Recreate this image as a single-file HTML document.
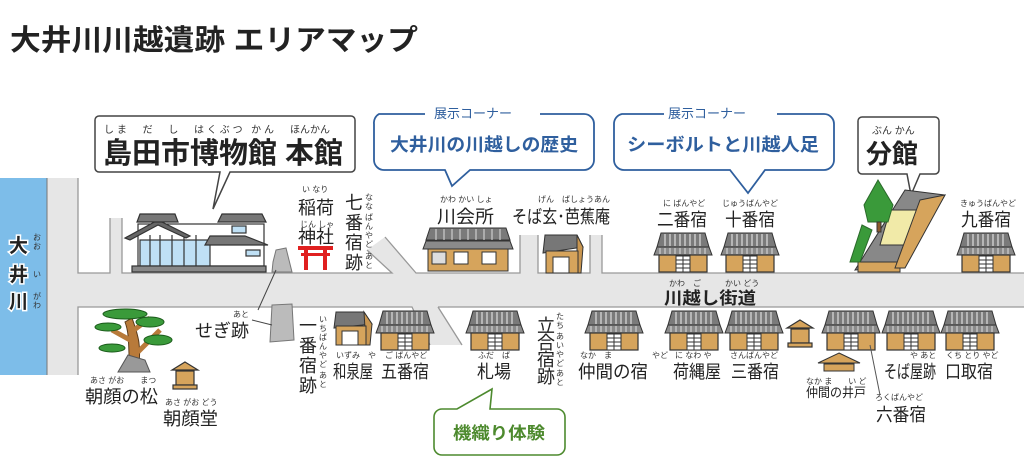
<!DOCTYPE html>
<html><head><meta charset="utf-8"><style>
html,body{margin:0;padding:0;background:#fff}
svg{display:block}
text{font-family:"Liberation Sans","Noto Sans CJK JP",sans-serif;fill:#222}
.r{font-size:8px;fill:#333}
.l{font-size:18px}
.b{font-weight:bold}
</style></head><body>
<svg width="1024" height="476" viewBox="0 0 1024 476" xmlns="http://www.w3.org/2000/svg">
<defs>
<g id="h">
 <polygon points="6,0 50,0 54,14 2,14" fill="#7a7a7a" stroke="#333" stroke-width="1"/>
 <path d="M10,1v12M15,1v12M20,1v12M25,1v12M30,1v12M35,1v12M40,1v12M45,1v12" stroke="#ddd" stroke-width="1.2"/>
 <polygon points="2,14 54,14 57,22 -1,22" fill="#8a8a8a" stroke="#333" stroke-width="1"/>
 <path d="M5,15v6M10,15v6M15,15v6M20,15v6M25,15v6M30,15v6M35,15v6M40,15v6M45,15v6M50,15v6" stroke="#ddd" stroke-width="1"/>
 <rect x="4" y="22" width="48" height="17" fill="#d6a45c" stroke="#333" stroke-width="1.2"/>
 <rect x="21" y="23" width="14" height="16" fill="#fff" stroke="#333" stroke-width="1"/>
 <path d="M21,27h14M21,31h14M21,35h14M28,23v16" stroke="#333" stroke-width="1"/>
</g>
<g id="sh">
 <polygon points="13,0 26,8 0,8" fill="#d6a45c" stroke="#333" stroke-width="1.2"/>
 <rect x="4" y="9" width="18" height="14" fill="#d6a45c" stroke="#333" stroke-width="1.2"/>
 <rect x="1" y="23" width="24" height="4" fill="#d6a45c" stroke="#333" stroke-width="1.2"/>
</g>
</defs>

<text x="10" y="50" class="b" style="font-size:29px" textLength="408" lengthAdjust="spacingAndGlyphs">大井川川越遺跡 エリアマップ</text>

<!-- roads -->
<g fill="#e6e6e6">
 <rect x="47" y="178" width="31" height="197"/>
 <rect x="47" y="273" width="977" height="34"/>
 <rect x="110" y="218" width="12" height="56"/>
 <polygon points="367,250 385,237 416,274 392,274"/>
 <rect x="520" y="235" width="18" height="40"/>
 <rect x="590" y="235" width="12" height="40"/>
 <polygon points="412,306 438,306 462,345 430,345"/>
</g>
<g stroke="#999" stroke-width="1.3" fill="none">
 <path d="M78,178V273H110V218M122,218V273H392L367,250"/>
 <path d="M385,237L416,273H520V235M538,235V273H590V235M602,235V273H1024"/>
 <path d="M78,375V307H412L430,345M438,307L462,345M438,307H1024"/>
</g>
<!-- river -->
<rect x="0" y="178" width="47" height="197" fill="#7dbde9"/>
<line x1="47" y1="178" x2="47" y2="375" stroke="#777" stroke-width="1"/>
<g stroke="#fff" stroke-width="3" paint-order="stroke">
<text x="9" y="252" style="font-size:19px" class="b">大</text>
<text x="9" y="281" style="font-size:19px" class="b">井</text>
<text x="9" y="308" style="font-size:19px" class="b">川</text>
</g>
<text x="33" y="240" class="r">お</text><text x="33" y="249" class="r">お</text>
<text x="33" y="277" class="r">い</text>
<text x="33" y="299" class="r">が</text><text x="33" y="308" class="r">わ</text>

<!-- honkan callout -->
<path d="M99,116H351a4,4 0 0 1 4,4V168a4,4 0 0 1-4,4H230L213,209L220,172H99a4,4 0 0 1-4-4V120a4,4 0 0 1 4-4Z" fill="#fff" stroke="#444" stroke-width="1.5"/>
<text x="104" y="133" class="r" style="font-size:10px" textLength="170">しま　だ　し　はくぶつ かん</text>
<text x="290" y="133" class="r" style="font-size:10px">ほんかん</text>
<text x="103" y="163" class="b" style="font-size:29px" textLength="240" lengthAdjust="spacingAndGlyphs">島田市博物館 本館</text>

<!-- museum -->
<g stroke="#333" stroke-width="1.2">
 <rect x="138" y="224" width="126" height="42" fill="#fff"/>
 <rect x="140" y="240" width="70" height="26" fill="#bfe0f5"/>
 <path d="M150,235v31M160,235v31M172,235v31M184,235v31M196,235v31" stroke="#333"/>
 <polygon points="125,238 158,220 190,236 186,238 158,225 130,240" fill="#666"/>
 <polygon points="140,214 175,214 178,222 137,222" fill="#777"/>
 <polygon points="222,214 262,214 266,222 218,222" fill="#777"/>
 <polygon points="210,236 245,236 268,245 205,245" fill="#777"/>
 <rect x="232" y="226" width="14" height="7" fill="#bfe0f5"/>
 <rect x="246" y="250" width="14" height="6" fill="#bfe0f5"/>
 <rect x="132" y="266" width="134" height="6" fill="#888"/>
</g>

<!-- inari -->
<text x="302" y="192" class="r">い なり</text>
<text x="298" y="214" class="l">稲荷</text>
<text x="300" y="227" class="r">じん しゃ</text>
<text x="298" y="243" class="l">神社</text>
<g fill="#e02020"><rect x="298" y="246" width="35" height="4"/><rect x="301" y="253" width="29" height="3"/><rect x="304" y="250" width="4" height="20"/><rect x="323" y="250" width="4" height="20"/></g>
<!-- nana -->
<text x="345" y="209" class="l">七</text><text x="345" y="229" class="l">番</text><text x="345" y="249" class="l">宿</text><text x="345" y="269" class="l">跡</text>
<text x="365" y="200" class="r">な</text><text x="365" y="209" class="r">な</text><text x="365" y="220" class="r">ば</text><text x="365" y="229" class="r">ん</text><text x="365" y="238" class="r">や</text><text x="365" y="247" class="r">ど</text><text x="365" y="259" class="r">あ</text><text x="365" y="268" class="r">と</text>
<!-- segi stones -->
<polygon points="276,250 286,248 291,268 292,272 272,272 273,262" fill="#bbb" stroke="#777"/>
<polygon points="272,305 292,304 294,340 270,342" fill="#bbb" stroke="#777"/>
<path d="M276,270L258,310M252,320L272,325" stroke="#444" stroke-width="1" fill="none"/>
<text x="233" y="317" class="r">あと</text>
<text x="195" y="337" class="l">せぎ跡</text>

<!-- blue callouts -->
<g fill="#fff" stroke="#2f5f9e" stroke-width="1.8">
<path d="M379,114H584a10,10 0 0 1 10,10V160a10,10 0 0 1-10,10H470L452,186L445,170H384a10,10 0 0 1-10-10V124a10,10 0 0 1 5-10Z"/>
<path d="M622,114H824a10,10 0 0 1 10,10V160a10,10 0 0 1-10,10H765L748,193L730,170H624a10,10 0 0 1-10-10V124a10,10 0 0 1 8-10Z"/>
</g>
<rect x="425" y="106" width="115" height="16" fill="#fff"/>
<rect x="664" y="106" width="113" height="16" fill="#fff"/>
<text x="434" y="118" style="font-size:13px;fill:#2f5f9e">展示コーナー</text>
<text x="668" y="118" style="font-size:13px;fill:#2f5f9e">展示コーナー</text>
<text x="390" y="151" class="b" style="font-size:18px;fill:#2f5f9e" textLength="188" lengthAdjust="spacingAndGlyphs">大井川の川越しの歴史</text>
<text x="627" y="151" class="b" style="font-size:18px;fill:#2f5f9e" textLength="192" lengthAdjust="spacingAndGlyphs">シーボルトと川越人足</text>

<!-- top row -->
<text x="440" y="202" class="r">かわ かい しょ</text>
<text x="437" y="223" class="l" textLength="57" lengthAdjust="spacingAndGlyphs">川会所</text>
<g transform="translate(424,228)">
 <polygon points="6,0 82,0 86,12 2,12" fill="#7a7a7a" stroke="#333"/>
 <polygon points="2,13 86,13 89,21 -1,21" fill="#8a8a8a" stroke="#333"/>
 <path d="M12,1v11M20,1v11M28,1v11M36,1v11M44,1v11M52,1v11M60,1v11M68,1v11M76,1v11" stroke="#ddd"/>
 <rect x="4" y="21" width="80" height="22" fill="#d6a45c" stroke="#333"/>
 <rect x="8" y="24" width="14" height="12" fill="#ddd" stroke="#333"/>
 <rect x="30" y="24" width="14" height="12" fill="#fff" stroke="#333"/>
 <rect x="58" y="24" width="14" height="12" fill="#fff" stroke="#333"/>
</g>
<text x="538" y="202" class="r">げん　ばしょうあん</text>
<text x="512" y="223" class="l" textLength="98" lengthAdjust="spacingAndGlyphs">そば玄･芭蕉庵</text>
<g transform="translate(543,235)" stroke="#333">
 <polygon points="2,0 34,0 40,12 0,18" fill="#777"/>
 <polygon points="34,0 40,12 38,38 34,38" fill="#c99650"/>
 <rect x="3" y="16" width="32" height="22" fill="#d6a45c"/>
 <rect x="10" y="22" width="16" height="16" fill="#fff"/>
</g>
<text x="663" y="206" class="r">に ばんやど</text>
<text x="657" y="226" class="l" textLength="50" lengthAdjust="spacingAndGlyphs">二番宿</text>
<text x="722" y="206" class="r">じゅうばんやど</text>
<text x="725" y="226" class="l" textLength="50" lengthAdjust="spacingAndGlyphs">十番宿</text>
<use href="#h" x="655" y="233"/>
<use href="#h" x="722" y="233"/>
<text x="960" y="206" class="r">きゅうばんやど</text>
<text x="961" y="226" class="l" textLength="50" lengthAdjust="spacingAndGlyphs">九番宿</text>
<use href="#h" x="958" y="233"/>

<!-- bunkan -->
<path d="M862,117H935a4,4 0 0 1 4,4V170a4,4 0 0 1-4,4H920L911,195L907,174H862a4,4 0 0 1-4-4V121a4,4 0 0 1 4-4Z" fill="#fff" stroke="#444" stroke-width="1.5"/>
<text x="872" y="134" class="r" style="font-size:10px">ぶん かん</text>
<text x="866" y="163" class="b" style="font-size:26px">分館</text>
<g stroke="#333">
 <polygon points="905,190 945,195 905,265 855,270" fill="#888"/>
 <polygon points="890,210 925,210 905,245 880,245" fill="#f1eaa8"/>
 <polygon points="858,262 900,262 900,272 858,272" fill="#d6a45c"/>
 <polygon points="920,200 945,195 905,268 895,268" fill="#d6a45c"/>
 <polygon points="878,180 893,205 888,222 868,222 864,205" fill="#3a9a3a" stroke="#2a6a2a"/>
 <rect x="877" y="222" width="4" height="10" fill="#8b5a2b"/>
 <polygon points="862,225 872,230 860,262 850,262" fill="#3a9a3a" stroke="#2a6a2a"/>
</g>

<text x="669" y="286" class="r">かわ　ご　　　かい どう</text>
<text x="664" y="304" class="b" style="font-size:17px" textLength="92" lengthAdjust="spacingAndGlyphs">川越し街道</text>

<!-- bottom row -->
<g>
 <path d="M130,372C128,350 130,335 125,322L132,318C138,335 142,345 138,372Z" fill="#b87a3a" stroke="#5a3a1a"/>
 <path d="M138,352L160,330M130,340L112,330M134,330L150,318" stroke="#b87a3a" stroke-width="5" fill="none"/>
 <polygon points="118,372 128,355 145,360 150,372" fill="#999" stroke="#555"/>
 <g fill="#3a9a3a" stroke="#1a5a1a"><ellipse cx="125" cy="314" rx="22" ry="5"/><ellipse cx="108" cy="327" rx="13" ry="4"/><ellipse cx="150" cy="322" rx="14" ry="5"/><ellipse cx="158" cy="340" rx="14" ry="5"/><ellipse cx="112" cy="348" rx="13" ry="4"/></g>
</g>
<text x="90" y="383" class="r">あさ がお　　まつ</text>
<text x="85" y="403" class="l" textLength="73" lengthAdjust="spacingAndGlyphs">朝顔の松</text>
<use href="#sh" x="172" y="362"/>
<text x="165" y="405" class="r">あさ がお どう</text>
<text x="163" y="425" class="l" textLength="55" lengthAdjust="spacingAndGlyphs">朝顔堂</text>

<text x="299" y="332" class="l">一</text><text x="299" y="352" class="l">番</text><text x="299" y="372" class="l">宿</text><text x="299" y="392" class="l">跡</text>
<text x="319" y="322" class="r">い</text><text x="319" y="331" class="r">ち</text><text x="319" y="340" class="r">ば</text><text x="319" y="349" class="r">ん</text><text x="319" y="358" class="r">や</text><text x="319" y="367" class="r">ど</text><text x="319" y="378" class="r">あ</text><text x="319" y="387" class="r">と</text>

<g transform="translate(334,312)" stroke="#333">
 <polygon points="2,0 30,0 38,12 0,16" fill="#777"/>
 <polygon points="30,0 38,12 36,33 32,33" fill="#c99650"/>
 <rect x="2" y="14" width="30" height="19" fill="#d6a45c"/>
 <rect x="8" y="19" width="16" height="14" fill="#fff"/>
</g>
<text x="336" y="358" class="r">いずみ　や</text>
<text x="333" y="378" class="l" textLength="40" lengthAdjust="spacingAndGlyphs">和泉屋</text>
<use href="#h" x="377" y="311"/>
<text x="385" y="358" class="r">ご ばんやど</text>
<text x="381" y="378" class="l" textLength="48" lengthAdjust="spacingAndGlyphs">五番宿</text>
<use href="#h" x="467" y="311"/>
<text x="478" y="358" class="r">ふだ　ば</text>
<text x="477" y="378" class="l" textLength="34" lengthAdjust="spacingAndGlyphs">札場</text>

<text x="537" y="332" class="l">立</text><text x="537" y="349" class="l">合</text><text x="537" y="366" class="l">宿</text><text x="537" y="383" class="l">跡</text>
<text x="556" y="319" class="r">た</text><text x="556" y="328" class="r">ち</text><text x="556" y="339" class="r">あ</text><text x="556" y="348" class="r">い</text><text x="556" y="357" class="r">や</text><text x="556" y="366" class="r">ど</text><text x="556" y="376" class="r">あ</text><text x="556" y="385" class="r">と</text>

<use href="#h" x="586" y="311"/>
<text x="580" y="358" class="r">なか　ま　　　　　やど</text>
<text x="578" y="378" class="l" textLength="70" lengthAdjust="spacingAndGlyphs">仲間の宿</text>
<use href="#h" x="666" y="311"/>
<text x="675" y="358" class="r">に なわ や</text>
<text x="673" y="378" class="l" textLength="48" lengthAdjust="spacingAndGlyphs">荷縄屋</text>
<use href="#h" x="726" y="311"/>
<text x="730" y="358" class="r">さんばんやど</text>
<text x="731" y="378" class="l" textLength="48" lengthAdjust="spacingAndGlyphs">三番宿</text>
<use href="#sh" x="787" y="320"/>
<use href="#h" x="823" y="311"/>
<polygon points="839,353 860,363 818,363" fill="#d6a45c" stroke="#333"/>
<rect x="824" y="364" width="30" height="7" fill="#d6a45c" stroke="#333"/>
<text x="806" y="384" class="r">なか ま　　い ど</text>
<text x="806" y="397" style="font-size:13px" textLength="60" lengthAdjust="spacingAndGlyphs">仲間の井戸</text>
<line x1="870" y1="345" x2="880" y2="395" stroke="#555"/>
<text x="875" y="400" class="r">ろくばんやど</text>
<text x="876" y="421" class="l" textLength="50" lengthAdjust="spacingAndGlyphs">六番宿</text>
<use href="#h" x="883" y="311"/>
<text x="910" y="358" class="r">や あと</text>
<text x="884" y="378" class="l" textLength="52" lengthAdjust="spacingAndGlyphs">そば屋跡</text>
<use href="#h" x="942" y="311"/>
<text x="946" y="358" class="r">くち とり やど</text>
<text x="945" y="378" class="l" textLength="48" lengthAdjust="spacingAndGlyphs">口取宿</text>

<!-- green callout -->
<path d="M442,409H457L492,389L490,409H557a8,8 0 0 1 8,8V447a8,8 0 0 1-8,8H442a8,8 0 0 1-8-8V417a8,8 0 0 1 8-8Z" fill="#fff" stroke="#4d8a2e" stroke-width="1.6"/>
<text x="453" y="439" style="font-size:17px;fill:#4d8a2e" class="b" textLength="92" lengthAdjust="spacingAndGlyphs">機織り体験</text>
</svg>
</body></html>
